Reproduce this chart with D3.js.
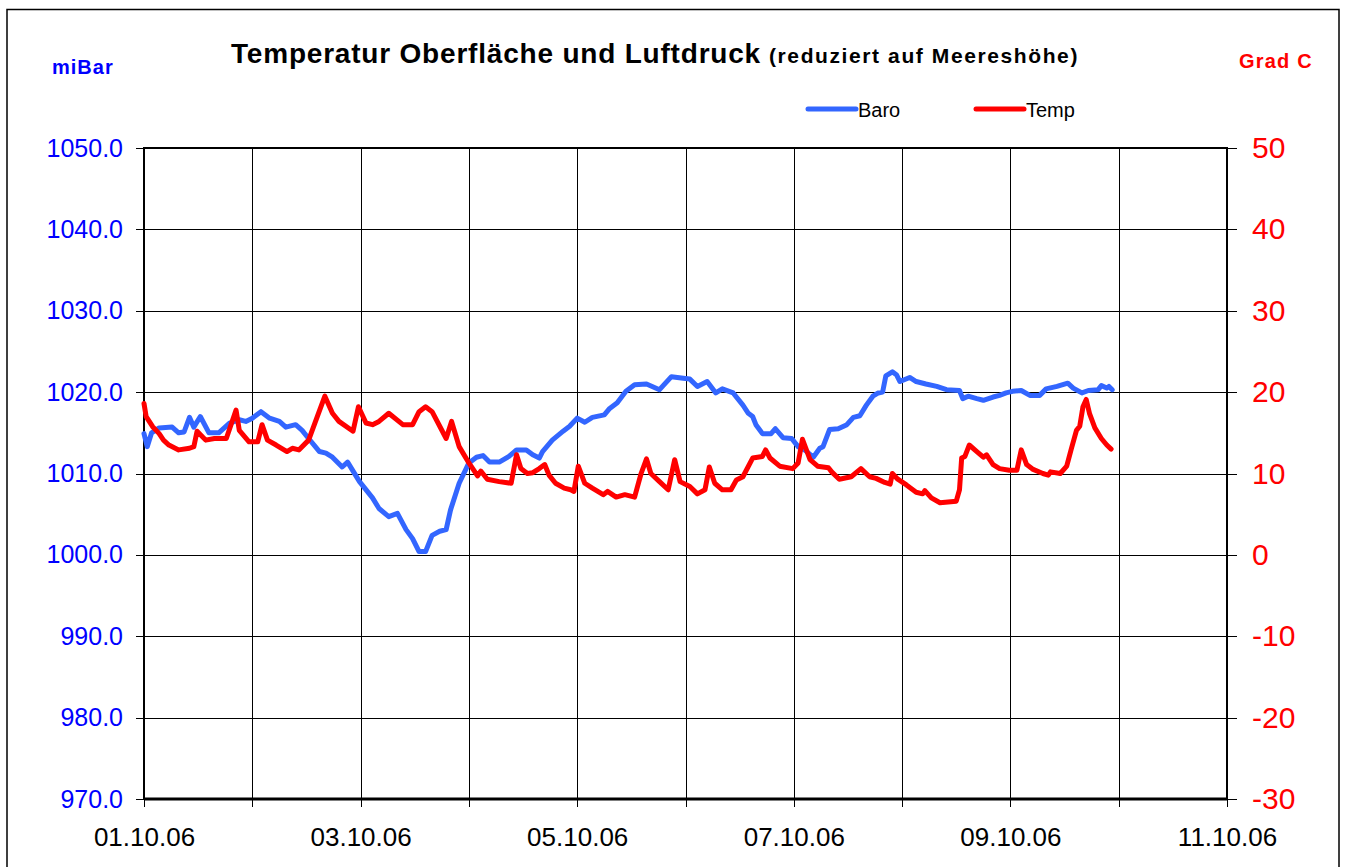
<!DOCTYPE html>
<meta charset="utf-8">
<style>
body { margin: 0; background: #fff; }
svg { font-family: "Liberation Sans", Arial, sans-serif; }
.grid line { stroke: #000; stroke-width: 1; shape-rendering: crispEdges; }
.axis .domain { display: none; }
.axis line { stroke: #000; stroke-width: 1; shape-rendering: crispEdges; }
.left text { fill: #0000ff; font-size: 25px; }
.right text { fill: #ff0000; font-size: 30px; }
.bottom text { fill: #000; font-size: 26px; }
.series { fill: none; stroke-width: 5; stroke-linejoin: round; stroke-linecap: round; }
</style>
<svg width="1347" height="867"></svg>
<script src="https://d3js.org/d3.v7.min.js"></script>
<script>
// [day since 01.10.06, mbar]
var baro = [
  [0.00,1014.9],[0.03,1013.3],[0.07,1015.0],[0.14,1015.6],[0.26,1015.7],[0.32,1015.0],
  [0.37,1015.1],[0.42,1016.9],[0.46,1015.7],[0.52,1017.0],[0.60,1015.0],[0.69,1015.0],
  [0.79,1016.2],[0.88,1016.6],[0.94,1016.4],[1.00,1016.8],[1.08,1017.6],[1.16,1016.8],
  [1.25,1016.4],[1.31,1015.7],[1.40,1016.0],[1.46,1015.3],[1.52,1014.3],[1.62,1012.7],
  [1.68,1012.5],[1.74,1012.0],[1.83,1010.8],[1.88,1011.4],[1.99,1009.0],[2.11,1007.0],
  [2.17,1005.7],[2.26,1004.7],[2.34,1005.1],[2.42,1003.1],[2.48,1002.0],[2.54,1000.4],
  [2.60,1000.4],[2.66,1002.4],[2.73,1002.9],[2.79,1003.1],[2.83,1005.5],[2.91,1008.8],
  [3.00,1011.3],[3.07,1012.0],[3.13,1012.2],[3.19,1011.4],[3.28,1011.4],[3.37,1012.1],
  [3.44,1012.9],[3.53,1012.9],[3.59,1012.3],[3.65,1011.9],[3.68,1012.7],[3.77,1014.1],
  [3.87,1015.2],[3.93,1015.8],[4.00,1016.8],[4.07,1016.3],[4.14,1016.9],[4.25,1017.2],
  [4.30,1018.0],[4.37,1018.7],[4.45,1020.1],[4.53,1020.9],[4.64,1021.0],[4.76,1020.3],
  [4.87,1021.9],[4.98,1021.7],[5.04,1021.6],[5.11,1020.7],[5.20,1021.3],[5.28,1019.9],
  [5.34,1020.4],[5.44,1019.9],[5.53,1018.4],[5.58,1017.4],[5.62,1017.0],[5.65,1016.0],
  [5.71,1014.9],[5.79,1014.9],[5.83,1015.5],[5.90,1014.4],[5.98,1014.3],[6.04,1013.3],
  [6.10,1012.9],[6.18,1012.0],[6.24,1013.1],[6.27,1013.3],[6.33,1015.4],[6.41,1015.5],
  [6.49,1016.0],[6.55,1016.9],[6.61,1017.1],[6.67,1018.4],[6.73,1019.5],[6.78,1019.9],
  [6.82,1020.0],[6.85,1022.0],[6.91,1022.5],[6.95,1022.1],[6.98,1021.3],[7.07,1021.8],
  [7.13,1021.3],[7.22,1021.0],[7.32,1020.7],[7.41,1020.3],[7.53,1020.2],[7.56,1019.2],
  [7.61,1019.5],[7.69,1019.2],[7.75,1019.0],[7.84,1019.4],[7.90,1019.6],[7.96,1019.9],
  [8.02,1020.1],[8.10,1020.2],[8.18,1019.6],[8.27,1019.6],[8.33,1020.4],[8.43,1020.7],
  [8.53,1021.1],[8.58,1020.5],[8.66,1019.9],[8.72,1020.2],[8.81,1020.3],[8.84,1020.8],
  [8.89,1020.5],[8.91,1020.7],[8.94,1020.3]
];

// [day since 01.10.06, Grad C]
var temp = [
  [0.00,18.6],[0.02,17.0],[0.08,15.75],[0.14,14.9],[0.18,14.1],[0.23,13.5],[0.32,12.9],
  [0.42,13.1],[0.46,13.3],[0.49,15.2],[0.57,14.1],[0.65,14.3],[0.76,14.3],[0.85,17.8],
  [0.88,15.3],[0.97,13.9],[1.05,13.9],[1.09,16.0],[1.14,14.1],[1.22,13.5],[1.32,12.7],
  [1.37,13.1],[1.43,12.9],[1.52,14.1],[1.60,17.0],[1.67,19.5],[1.74,17.4],[1.80,16.4],
  [1.93,15.2],[1.98,18.2],[2.05,16.2],[2.11,16.0],[2.17,16.4],[2.26,17.4],[2.39,16.0],
  [2.48,16.0],[2.54,17.6],[2.60,18.2],[2.66,17.6],[2.79,14.3],[2.84,16.4],[2.91,13.3],
  [3.00,11.3],[3.08,9.7],[3.11,10.3],[3.17,9.3],[3.28,9.0],[3.39,8.8],[3.44,12.3],
  [3.48,10.6],[3.54,10.0],[3.59,10.1],[3.65,10.6],[3.70,11.1],[3.74,9.8],[3.80,8.8],
  [3.88,8.2],[3.94,8.0],[3.97,7.8],[4.01,10.9],[4.07,8.8],[4.14,8.2],[4.24,7.4],
  [4.28,7.8],[4.36,7.1],[4.44,7.4],[4.53,7.1],[4.59,10.0],[4.64,11.8],[4.68,10.0],
  [4.76,9.0],[4.84,8.0],[4.90,11.7],[4.95,9.0],[5.04,8.4],[5.11,7.5],[5.18,8.0],
  [5.22,10.8],[5.27,8.8],[5.34,8.0],[5.42,8.0],[5.47,9.2],[5.53,9.6],[5.62,11.9],
  [5.71,12.1],[5.74,12.9],[5.78,11.9],[5.87,10.9],[5.99,10.6],[6.04,11.3],[6.08,14.2],
  [6.15,11.7],[6.22,10.9],[6.32,10.7],[6.35,10.2],[6.42,9.3],[6.53,9.6],[6.62,10.6],
  [6.70,9.6],[6.76,9.4],[6.84,8.9],[6.89,8.7],[6.91,10.0],[6.96,9.3],[7.04,8.6],
  [7.13,7.7],[7.19,7.5],[7.21,7.9],[7.27,7.0],[7.35,6.4],[7.50,6.6],[7.53,8.0],
  [7.55,11.9],[7.58,12.1],[7.62,13.5],[7.69,12.7],[7.75,12.0],[7.78,12.3],[7.84,11.1],
  [7.90,10.6],[7.99,10.4],[8.06,10.4],[8.10,12.9],[8.15,11.1],[8.21,10.5],[8.30,10.0],
  [8.35,9.8],[8.37,10.2],[8.46,10.0],[8.52,10.9],[8.56,12.9],[8.61,15.3],[8.64,15.8],
  [8.67,18.2],[8.70,19.1],[8.73,17.4],[8.78,15.6],[8.84,14.3],[8.89,13.5],[8.93,13.0]
];

var baroTicks = [970, 980, 990, 1000, 1010, 1020, 1030, 1040, 1050];
var tempTicks = [-30, -20, -10, 0, 10, 20, 30, 40, 50];
var startDate = Date.UTC(2006, 9, 1);
var endDate = Date.UTC(2006, 9, 11);
var dayMs = 86400000;

var svg = d3.select("svg");

var plotLeft = 144, plotRight = 1227, plotTop = 148, plotBottom = 799;

var x = d3.scaleUtc()
    .domain([new Date(startDate), new Date(endDate)])
    .range([plotLeft, plotRight]);

var yBaro = d3.scaleLinear().domain([970, 1050]).range([plotBottom, plotTop]);
var yTemp = d3.scaleLinear().domain([-30, 50]).range([plotBottom, plotTop]);

function toDate(d) { return new Date(startDate + d * dayMs); }

// outer frame
svg.append("rect")
    .attr("x", 7).attr("y", 9.5)
    .attr("width", 1332).attr("height", 880)
    .attr("fill", "none").attr("stroke", "#000").attr("stroke-width", 1.5);

// grid
var days = d3.utcDay.range(new Date(startDate), new Date(endDate + 1));
var grid = svg.append("g").attr("class", "grid");
grid.selectAll("line.v")
  .data(days.slice(1, -1))
  .enter().append("line")
    .attr("class", "v")
    .attr("x1", d => Math.round(x(d)) + 0.5).attr("x2", d => Math.round(x(d)) + 0.5)
    .attr("y1", plotTop).attr("y2", plotBottom);
grid.selectAll("line.h")
  .data(baroTicks.slice(1, -1))
  .enter().append("line")
    .attr("class", "h")
    .attr("x1", plotLeft).attr("x2", plotRight)
    .attr("y1", d => Math.round(yBaro(d)) + 0.5).attr("y2", d => Math.round(yBaro(d)) + 0.5);

// axes
svg.append("g")
    .attr("class", "axis left")
    .attr("transform", "translate(" + plotLeft + ",0)")
    .call(d3.axisLeft(yBaro).tickValues(baroTicks).tickFormat(d3.format(".1f"))
      .tickSize(8).tickPadding(13));

var rightAxis = svg.append("g")
    .attr("class", "axis right")
    .attr("transform", "translate(" + plotRight + ",0)")
    .call(d3.axisRight(yTemp).tickValues(tempTicks).tickFormat(d => String(d))
      .tickSize(10).tickPadding(15));
rightAxis.selectAll(".tick line").attr("x1", -10);

var fmt = d3.utcFormat("%d.%m.%y");
svg.append("g")
    .attr("class", "axis bottom")
    .attr("transform", "translate(0," + plotBottom + ")")
    .call(d3.axisBottom(x).tickValues(days)
      .tickFormat((d, i) => i % 2 === 0 ? fmt(d) : "")
      .tickSize(8).tickPadding(21));

// plot border
svg.append("rect")
    .attr("x", plotLeft).attr("y", plotTop)
    .attr("width", plotRight - plotLeft).attr("height", plotBottom - plotTop)
    .attr("fill", "none").attr("stroke", "#000").attr("stroke-width", 2);
svg.append("line")
    .attr("x1", plotLeft).attr("x2", plotRight)
    .attr("y1", plotBottom).attr("y2", plotBottom)
    .attr("stroke", "#000").attr("stroke-width", 3);

// series
svg.append("path")
    .datum(baro)
    .attr("class", "series")
    .attr("stroke", "#3366ff")
    .attr("d", d3.line().x(d => x(toDate(d[0]))).y(d => yBaro(d[1])));

svg.append("path")
    .datum(temp)
    .attr("class", "series")
    .attr("stroke", "#ff0000")
    .attr("d", d3.line().x(d => x(toDate(d[0]))).y(d => yTemp(d[1])));

// titles
var title = svg.append("text")
    .attr("x", 231).attr("y", 63)
    .attr("font-weight", "bold");
title.append("tspan")
    .attr("font-size", "28px").attr("letter-spacing", "0.8px")
    .text("Temperatur Oberfläche und Luftdruck");
title.append("tspan")
    .attr("font-size", "21px").attr("letter-spacing", "1.6px")
    .attr("dx", 8)
    .text("(reduziert auf Meereshöhe)");

svg.append("text")
    .attr("x", 52).attr("y", 74)
    .attr("font-size", "20px").attr("font-weight", "bold")
    .attr("letter-spacing", "1px")
    .attr("fill", "#0000ff")
    .text("miBar");

svg.append("text")
    .attr("x", 1239).attr("y", 68)
    .attr("font-size", "20px").attr("font-weight", "bold")
    .attr("letter-spacing", "1.2px")
    .attr("fill", "#ff0000")
    .text("Grad C");

// legend
var legend = [
  {name: "Baro", color: "#3366ff", x: 808},
  {name: "Temp", color: "#ff0000", x: 976}
];
var lg = svg.selectAll("g.legend")
  .data(legend)
  .enter().append("g")
    .attr("class", "legend")
    .attr("transform", d => "translate(" + d.x + ",109)");
lg.append("line")
    .attr("x1", 0).attr("x2", 48)
    .attr("stroke", d => d.color).attr("stroke-width", 5).attr("stroke-linecap", "round");
lg.append("text")
    .attr("x", 50).attr("y", 8)
    .attr("font-size", "20px")
    .text(d => d.name);
</script>
